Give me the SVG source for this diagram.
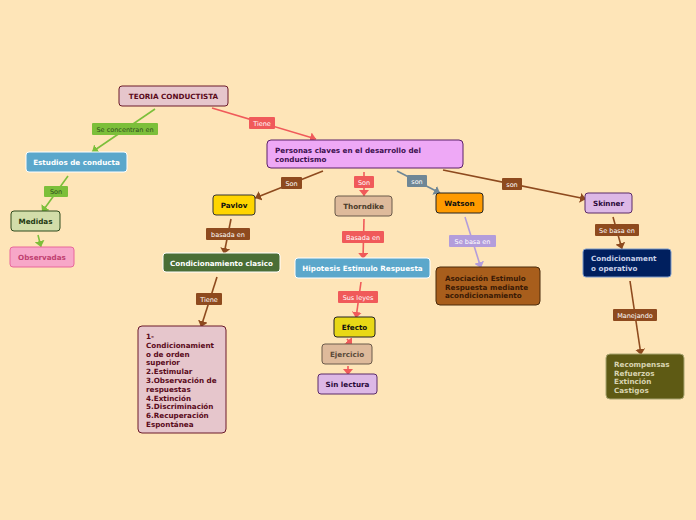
<svg xmlns="http://www.w3.org/2000/svg" width="696" height="520" viewBox="0 0 696 520">
<style>
.n text{font-family:"DejaVu Sans",Verdana,sans-serif;font-weight:bold;font-size:7.2px}
.c text{font-family:"DejaVu Sans",Verdana,sans-serif;font-size:6.5px;text-anchor:middle}
.c line{stroke-width:1.6;fill:none}
.mid{text-anchor:middle}
</style>
<defs>
<marker id="aG" viewBox="0 0 6 10" refX="6" refY="5" markerWidth="6" markerHeight="10" markerUnits="userSpaceOnUse" orient="auto"><path d="M0,0L6,5L0,10z" fill="#7CBF3A"/></marker>
<marker id="aR" viewBox="0 0 6 10" refX="6" refY="5" markerWidth="6" markerHeight="10" markerUnits="userSpaceOnUse" orient="auto"><path d="M0,0L6,5L0,10z" fill="#F05A5A"/></marker>
<marker id="aB" viewBox="0 0 6 10" refX="6" refY="5" markerWidth="6" markerHeight="10" markerUnits="userSpaceOnUse" orient="auto"><path d="M0,0L6,5L0,10z" fill="#8E4A1E"/></marker>
<marker id="aS" viewBox="0 0 6 10" refX="6" refY="5" markerWidth="6" markerHeight="10" markerUnits="userSpaceOnUse" orient="auto"><path d="M0,0L6,5L0,10z" fill="#6F8796"/></marker>
<marker id="aL" viewBox="0 0 6 10" refX="6" refY="5" markerWidth="6" markerHeight="10" markerUnits="userSpaceOnUse" orient="auto"><path d="M0,0L6,5L0,10z" fill="#B39DDB"/></marker>
</defs>
<rect width="696" height="520" fill="#FEE5B8"/>
<g id="connectors" class="c">
<line x1="155" y1="109" x2="92" y2="152" stroke="#7CBF3A" marker-end="url(#aG)"/>
<rect x="92" y="123" width="66" height="12" rx="1" fill="#7CBF3A"/><text x="125" y="131.5" fill="#2F4A1C">Se concentran en</text>
<line x1="212" y1="108" x2="316" y2="139" stroke="#F05A5A" marker-end="url(#aR)"/>
<rect x="249" y="117" width="26" height="12" rx="1" fill="#F05A5A"/><text x="262" y="125.5" fill="#fff">Tiene</text>
<line x1="68" y1="176" x2="42" y2="212" stroke="#7CBF3A" marker-end="url(#aG)"/>
<rect x="44" y="186" width="24" height="11" rx="1" fill="#7CBF3A"/><text x="56" y="194" fill="#2F4A1C">Son</text>
<line x1="38" y1="235" x2="41" y2="247" stroke="#7CBF3A" marker-end="url(#aG)"/>
<line x1="323" y1="171" x2="255" y2="198" stroke="#8E4A1E" marker-end="url(#aB)"/>
<rect x="281" y="177" width="21" height="12" rx="1" fill="#8E4A1E"/><text x="291.5" y="185.5" fill="#fff">Son</text>
<line x1="364" y1="172" x2="364" y2="196" stroke="#F05A5A" marker-end="url(#aR)"/>
<rect x="354" y="176" width="20" height="12" rx="1" fill="#F05A5A"/><text x="364" y="184.5" fill="#fff">Son</text>
<line x1="397" y1="171" x2="440" y2="193" stroke="#6F8796" marker-end="url(#aS)"/>
<rect x="407" y="175" width="20" height="12" rx="1" fill="#6F8796"/><text x="417" y="183.5" fill="#fff">son</text>
<line x1="443" y1="170" x2="586" y2="199" stroke="#8E4A1E" marker-end="url(#aB)"/>
<rect x="502" y="178" width="20" height="12" rx="1" fill="#8E4A1E"/><text x="512" y="186.5" fill="#fff">son</text>
<line x1="231" y1="219" x2="224" y2="254" stroke="#8E4A1E" marker-end="url(#aB)"/>
<rect x="206" y="228" width="44" height="12" rx="1" fill="#8E4A1E"/><text x="228" y="236.5" fill="#fff">basada en</text>
<line x1="217" y1="277" x2="201" y2="327" stroke="#8E4A1E" marker-end="url(#aB)"/>
<rect x="196" y="293" width="26" height="12" rx="1" fill="#8E4A1E"/><text x="209" y="301.5" fill="#fff">Tiene</text>
<line x1="364" y1="219" x2="363" y2="259" stroke="#F05A5A" marker-end="url(#aR)"/>
<rect x="342" y="231" width="42" height="12" rx="1" fill="#F05A5A"/><text x="363" y="239.5" fill="#fff">Basada en</text>
<line x1="361" y1="282" x2="356" y2="318" stroke="#F05A5A" marker-end="url(#aR)"/>
<rect x="338" y="291" width="40" height="12" rx="1" fill="#F05A5A"/><text x="358" y="299.5" fill="#fff">Sus leyes</text>
<line x1="347" y1="339" x2="352" y2="345" stroke="#F05A5A" marker-end="url(#aR)"/>
<line x1="348" y1="366" x2="348" y2="375" stroke="#F05A5A" marker-end="url(#aR)"/>
<line x1="465" y1="217" x2="481" y2="268" stroke="#B39DDB" marker-end="url(#aL)"/>
<rect x="449" y="235" width="47" height="12" rx="1" fill="#B39DDB"/><text x="472.5" y="243.5" fill="#fff">Se basa en</text>
<line x1="613" y1="217" x2="622" y2="249" stroke="#8E4A1E" marker-end="url(#aB)"/>
<rect x="595" y="224" width="44" height="12" rx="1" fill="#8E4A1E"/><text x="617" y="232.5" fill="#fff">Se basa en</text>
<line x1="630" y1="281" x2="641" y2="355" stroke="#8E4A1E" marker-end="url(#aB)"/>
<rect x="613" y="309" width="44" height="12" rx="1" fill="#8E4A1E"/><text x="635" y="317.5" fill="#fff">Manejando</text>
</g>
<g id="teoria" class="n"><rect x="119" y="86" width="109" height="20" rx="3" fill="#E6C6CC" stroke="#6B1A2A"/><text x="173.5" y="99" class="mid" fill="#5A0A1A">TEORIA CONDUCTISTA</text></g>
<g id="personas" class="n"><rect x="267" y="140" width="196" height="28" rx="4" fill="#EEA8F6" stroke="#5B2169"/><text x="275" y="153" fill="#3D1050">Personas claves en el desarrollo del</text><text x="275" y="161.5" fill="#3D1050">conductismo</text></g>
<g id="estudios" class="n"><rect x="26" y="152" width="101" height="20" rx="3" fill="#5BA7CB" stroke="#fff"/><text x="76.5" y="165" class="mid" fill="#fff">Estudios de conducta</text></g>
<g id="medidas" class="n"><rect x="11" y="211" width="49" height="20" rx="3" fill="#D2DDA9" stroke="#2F4A1C"/><text x="35.5" y="224" class="mid" fill="#1F3A12">Medidas</text></g>
<g id="observadas" class="n"><rect x="10" y="247" width="64" height="20" rx="3" fill="#F7A7C8" stroke="#E8679B"/><text x="42" y="260" class="mid" fill="#C04070">Observadas</text></g>
<g id="pavlov" class="n"><rect x="213" y="195" width="42" height="20" rx="3" fill="#FFD500" stroke="#333"/><text x="234" y="208" class="mid" fill="#111">Pavlov</text></g>
<g id="thorndike" class="n"><rect x="335" y="196" width="57" height="20" rx="3" fill="#DEBA9B" stroke="#6B5A4A"/><text x="363.5" y="209" class="mid" fill="#4A3A2A">Thorndike</text></g>
<g id="watson" class="n"><rect x="436" y="193" width="47" height="20" rx="3" fill="#FF9A00" stroke="#222"/><text x="459.5" y="206" class="mid" fill="#111">Watson</text></g>
<g id="skinner" class="n"><rect x="585" y="193" width="47" height="20" rx="3" fill="#DDB8E6" stroke="#5B2A69"/><text x="608.5" y="206" class="mid" fill="#2A0A3A">Skinner</text></g>
<g id="clasico" class="n"><rect x="163" y="253" width="117" height="19" rx="3" fill="#4A6E36" stroke="#fff"/><text x="221.5" y="265.5" class="mid" fill="#fff">Condicionamiento clasico</text></g>
<g id="hipotesis" class="n"><rect x="295" y="258" width="135" height="20" rx="3" fill="#5BA7CB" stroke="#fff"/><text x="362.5" y="271" class="mid" fill="#fff">Hipotesis Estimulo Respuesta</text></g>
<g id="asociacion" class="n"><rect x="436" y="267" width="104" height="38" rx="4" fill="#A85E1C" stroke="#4A2A0A"/><text x="445" y="281" fill="#3A1A05">Asociación Estimulo</text><text x="445" y="289.5" fill="#3A1A05">Respuesta mediante</text><text x="445" y="298" fill="#3A1A05">acondicionamiento</text></g>
<g id="operativo" class="n"><rect x="583" y="249" width="88" height="28" rx="3" fill="#001F5E" stroke="#7A9ACB"/><text x="591" y="261" fill="#C8D0E8">Condicionament</text><text x="591" y="270.5" fill="#C8D0E8">o operativo</text></g>
<g id="recompensas" class="n"><rect x="606" y="354" width="78" height="45" rx="4" fill="#5E5A14" stroke="#A8A470"/><text x="614" y="367" fill="#D8D4B0">Recompensas</text><text x="614" y="375.5" fill="#D8D4B0">Refuerzos</text><text x="614" y="384" fill="#D8D4B0">Extinción</text><text x="614" y="392.5" fill="#D8D4B0">Castigos</text></g>
<g id="lista" class="n"><rect x="138" y="326" width="88" height="107" rx="4" fill="#E6C6CC" stroke="#6B1A2A"/>
<text fill="#5A0A1A"><tspan x="146" y="339">1-</tspan><tspan x="146" y="347.8">Condicionamient</tspan><tspan x="146" y="356.6">o de orden</tspan><tspan x="146" y="365.4">superior</tspan><tspan x="146" y="374.2">2.Estimular</tspan><tspan x="146" y="383">3.Observación de</tspan><tspan x="146" y="391.8">respuestas</tspan><tspan x="146" y="400.6">4.Extinción</tspan><tspan x="146" y="409.4">5.Discriminación</tspan><tspan x="146" y="418.2">6.Recuperación</tspan><tspan x="146" y="427">Espontánea</tspan></text></g>
<g id="efecto" class="n"><rect x="334" y="317" width="41" height="20" rx="3" fill="#E8D816" stroke="#222"/><text x="354.5" y="330" class="mid" fill="#111">Efecto</text></g>
<g id="ejercicio" class="n"><rect x="322" y="344" width="50" height="20" rx="3" fill="#DEBA9B" stroke="#6B5A4A"/><text x="347" y="357" class="mid" fill="#5A4A3A">Ejercicio</text></g>
<g id="sinlectura" class="n"><rect x="318" y="374" width="59" height="20" rx="3" fill="#DDB8E6" stroke="#5B2A69"/><text x="347.5" y="387" class="mid" fill="#2A0A3A">Sin lectura</text></g>
</svg>
